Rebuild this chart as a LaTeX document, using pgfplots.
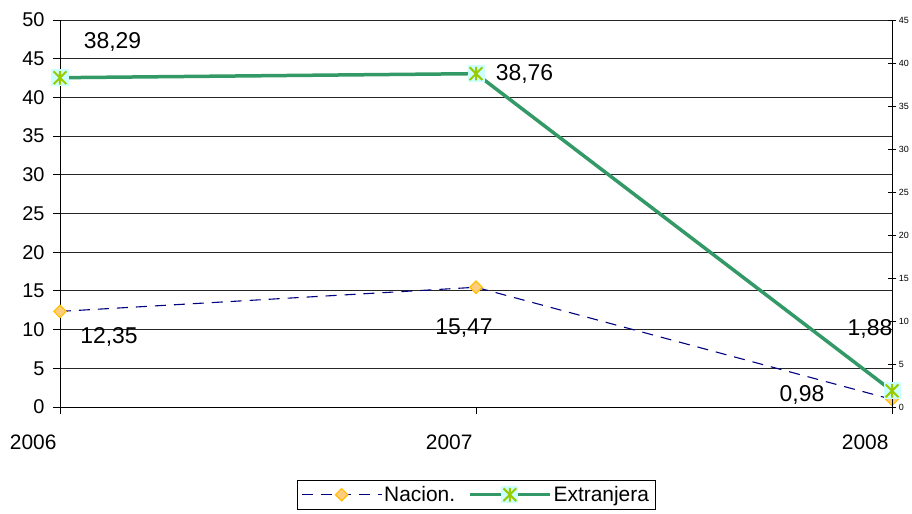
\documentclass[border=0pt]{standalone}
\usepackage{fontspec}
\setmainfont{Liberation Sans}
\usepackage{pgfplots}
\pgfplotsset{compat=1.18}
\usepackage{pgfplotstable}

\definecolor{navyline}{HTML}{000080}
\definecolor{diafill}{HTML}{FFCC80}
\definecolor{diadraw}{HTML}{FFC000}
\definecolor{greenline}{HTML}{339966}
\definecolor{cyanbg}{HTML}{CCFFFF}
\definecolor{starg}{HTML}{99CC00}

\pgfdeclareplotmark{xstar}{%
  \pgfpathrectangle{\pgfqpoint{-\pgfplotmarksize}{-\pgfplotmarksize}}{\pgfqpoint{2\pgfplotmarksize}{2\pgfplotmarksize}}%
  \pgfusepathqfill
  \pgfpathmoveto{\pgfqpoint{0pt}{-.8\pgfplotmarksize}}\pgfpathlineto{\pgfqpoint{0pt}{.8\pgfplotmarksize}}%
  \pgfpathmoveto{\pgfqpoint{-.75\pgfplotmarksize}{-.75\pgfplotmarksize}}\pgfpathlineto{\pgfqpoint{.75\pgfplotmarksize}{.75\pgfplotmarksize}}%
  \pgfpathmoveto{\pgfqpoint{-.75\pgfplotmarksize}{.75\pgfplotmarksize}}\pgfpathlineto{\pgfqpoint{.75\pgfplotmarksize}{-.75\pgfplotmarksize}}%
  \pgfusepathqstroke}

\pgfplotstableread{
x    y     dx   dy   lab
2006 12.35 49   -26  12,35
2007 15.47 -12  -41  15,47
2008 0.98  -90  4    0,98
}\nacion

\pgfplotstableread{
x    y     dx    dy   lab
2006 38.29 52.5  36   38,29
2007 38.76 48.5  0    38,76
2008 1.88  -22   62   1,88
}\extranjera

\begin{document}
\begin{tikzpicture}
\pgfplotsset{
  lbl/.style={
    nodes near coords, point meta=explicit symbolic,
    visualization depends on={\thisrow{dx}\as\dx},
    visualization depends on={\thisrow{dy}\as\dy},
    every node near coord/.append style={anchor=center, xshift=\dx bp, yshift=\dy bp,
      text=black, font=\fontsize{23}{23}\selectfont, solid}},
  legend image code/.code={\draw[mark repeat=2,mark phase=2,#1] plot coordinates {(0bp,0bp) (40bp,0bp) (80bp,0bp)};},
}
\begin{axis}[
  at={(0,0)}, anchor=south west,
  scale only axis, width=832bp, height=387bp,
  xmin=2006, xmax=2008, ymin=0, ymax=50,
  xtick={2006,2007,2008}, xticklabels={2006,2007,2008},
  ytick={0,5,...,50},
  axis lines*=left,
  axis line style={-, black, line width=1bp},
  ymajorgrids, grid style={black!85, line width=0.9bp},
  tick align=outside, major tick length=7bp,
  tick style={black, line width=0.9bp},
  /pgf/number format/assume math mode=true,
  yticklabel style={font=\fontsize{20}{20}\selectfont, xshift=-5bp},
  xticklabel style={font=\fontsize{21}{21}\selectfont, anchor=north east, yshift=-17bp, xshift=0bp},
  clip=false,
  legend style={at={(0.5,-0.1886)}, anchor=north, legend columns=2, draw=black, line width=0.8bp,
    font=\fontsize{21}{21}\selectfont, inner xsep=4bp, inner ysep=4bp,
    /tikz/every even column/.append style={column sep=11bp}},
]
\addplot[navyline, line width=1.1bp, dash pattern=on 11bp off 8bp,
  mark=square*, mark size=4.4bp, mark options={rotate=45, fill=diafill, draw=diadraw, line width=1.2bp, solid},
  lbl] table[x=x, y=y, meta=lab]{\nacion};
\addlegendentry{Nacion.}
\addlegendimage{greenline, line width=3.5bp, mark=xstar, mark size=8.5bp, mark options={fill=cyanbg, draw=starg, line width=2bp}}
\addlegendentry{Extranjera}
\end{axis}
\begin{axis}[
  at={(0,0)}, anchor=south west,
  scale only axis, width=832bp, height=387bp,
  xmin=2006, xmax=2008, ymin=0, ymax=45,
  axis y line*=right, axis x line=none,
  ytick={0,5,...,45},
  axis line style={-, black, line width=1bp},
  tick align=center, major tick length=9bp,
  tick style={black, line width=0.9bp},
  /pgf/number format/assume math mode=true,
  yticklabel style={font=\fontsize{9}{9}\selectfont, anchor=west, xshift=-1bp},
  clip=false,
]
\addplot[greenline, line width=3.5bp,
  mark=xstar, mark size=8.5bp, mark options={fill=cyanbg, draw=starg, line width=2bp},
  lbl] table[x=x, y=y, meta=lab]{\extranjera};
\end{axis}
\pgfresetboundingbox
\path[use as bounding box] (-60bp,-107bp) rectangle (852bp,407bp);
\end{tikzpicture}
\end{document}
